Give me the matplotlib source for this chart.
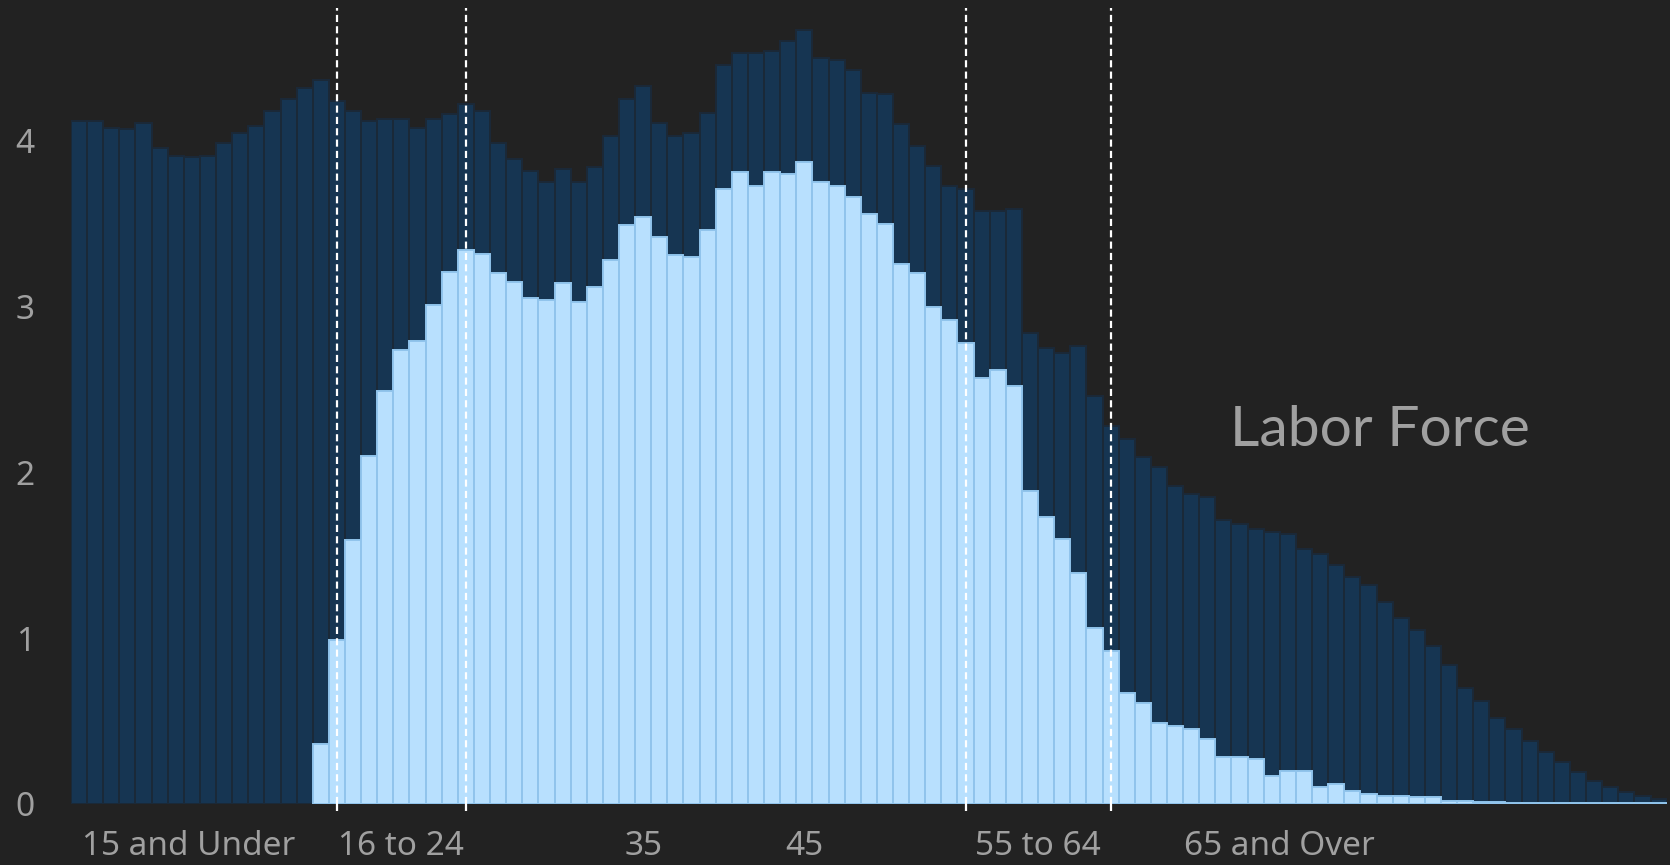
# -*- coding: utf-8 -*-

"""
Population by single year of age, with the labor force drawn over it.
"""

import matplotlib
matplotlib.use('Agg')
import matplotlib.pyplot as plt


# millions of people, one value per age 0..98
population = [
    4.12, 4.12, 4.08, 4.07, 4.11, 3.96, 3.91, 3.90, 3.91, 3.99,
    4.05, 4.09, 4.18, 4.25, 4.32, 4.37, 4.24, 4.18, 4.12, 4.13,
    4.13, 4.08, 4.13, 4.16, 4.22, 4.18, 3.99, 3.89, 3.82, 3.75,
    3.83, 3.75, 3.84, 4.03, 4.25, 4.33, 4.11, 4.03, 4.05, 4.17,
    4.46, 4.53, 4.53, 4.54, 4.60, 4.67, 4.50, 4.49, 4.43, 4.29,
    4.28, 4.10, 3.97, 3.85, 3.73, 3.71, 3.58, 3.58, 3.59, 2.84,
    2.75, 2.72, 2.76, 2.46, 2.28, 2.20, 2.09, 2.03, 1.92, 1.87,
    1.85, 1.71, 1.69, 1.66, 1.64, 1.63, 1.54, 1.51, 1.44, 1.37,
    1.32, 1.22, 1.12, 1.05, 0.95, 0.84, 0.70, 0.62, 0.52, 0.45,
    0.38, 0.31, 0.25, 0.19, 0.14, 0.10, 0.07, 0.05, 0.03,
]

labor_force = [
    0, 0, 0, 0, 0, 0, 0, 0, 0, 0,
    0, 0, 0, 0, 0, 0.36, 0.99, 1.59, 2.10, 2.49,
    2.74, 2.79, 3.01, 3.21, 3.34, 3.32, 3.20, 3.15, 3.05, 3.04,
    3.14, 3.03, 3.12, 3.28, 3.49, 3.54, 3.42, 3.31, 3.30, 3.46,
    3.71, 3.81, 3.73, 3.81, 3.80, 3.87, 3.75, 3.73, 3.66, 3.56,
    3.50, 3.26, 3.20, 3.00, 2.92, 2.78, 2.57, 2.62, 2.52, 1.89,
    1.73, 1.60, 1.39, 1.06, 0.92, 0.67, 0.61, 0.49, 0.47, 0.45,
    0.39, 0.28, 0.28, 0.27, 0.17, 0.20, 0.20, 0.10, 0.12, 0.08,
    0.06, 0.05, 0.05, 0.04, 0.04, 0.02, 0.02, 0.01, 0.01, 0.005,
    0.005, 0.005, 0.005, 0.005, 0.005, 0.005, 0.005, 0.005, 0.005,
]

ages = list(range(len(population)))

# age group boundaries (dashed lines) and the x labels
group_breaks = [16, 24, 55, 64]
label_pos = [6.8, 20, 35, 45, 59.5, 74.5]
label_text = ['15 and Under', '16 to 24', '35', '45', '55 to 64', '65 and Over']

BG = '#222222'
DARK = '#163552'
LIGHT = '#b8e0fe'
GREY = '#a0a0a0'


def plot_labor(ax):
    """Draws population bars with labor force bars on top."""

    ax.bar(ages, population, width=1.0, color=DARK,
           edgecolor='#1b2938', linewidth=1.4)

    lf_x = [a for a, v in zip(ages, labor_force) if v > 0]
    lf_y = [v for v in labor_force if v > 0]
    ax.bar(lf_x, lf_y, width=1.0, color=LIGHT,
           edgecolor='#90c4ec', linewidth=1.4)

    for b in group_breaks:
        ax.axvline(b, color='white', linewidth=1.6,
                   linestyle=(0, (3.2, 1.9)), zorder=5)

    ax.text(80.7, 2.16, 'Labor Force', color=GREY, fontsize=41,
            family='Lato', ha='center', va='baseline')


def style_axes(ax):
    ax.set_facecolor(BG)
    ax.set_xlim(-0.5, 98.5)
    ax.set_ylim(0, 4.8)

    for s in ax.spines.values():
        s.set_visible(False)

    ax.set_yticks([0, 1, 2, 3, 4])
    ax.tick_params(axis='y', length=0, pad=26, labelsize=24,
                   labelcolor=GREY)

    # white marks under the dashed lines, labels sit on minor ticks
    ax.set_xticks(group_breaks)
    ax.set_xticklabels([])
    ax.tick_params(axis='x', which='major', length=5, width=1.6,
                   color='white', direction='out')
    ax.set_xticks(label_pos, minor=True)
    ax.set_xticklabels(label_text, minor=True)
    ax.tick_params(axis='x', which='minor', length=0, pad=19,
                   labelsize=24, labelcolor=GREY)

    for t in ax.get_xticklabels(minor=True) + ax.get_yticklabels():
        t.set_family('Noto Sans')


def main():
    fig = plt.figure(figsize=(16.7, 8.65), dpi=100)
    fig.patch.set_facecolor(BG)
    ax = fig.add_axes([0.0425, 0.0707, 0.9555, 0.9197])

    plot_labor(ax)
    style_axes(ax)

    fig.savefig('out.png', dpi=100, facecolor=BG)


if __name__ == '__main__':
    main()
